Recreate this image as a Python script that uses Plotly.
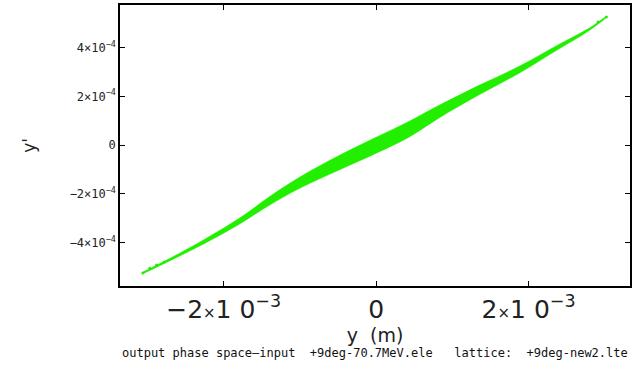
import plotly.graph_objects as go

# Band edges (x in m, y' in rad)
band_x = [-3.06e-3, -2.71e-3, -2.31e-3, -1.79e-3, -1.40e-3, -1.01e-3, -0.48e-3, 0.0,
          0.43e-3, 0.82e-3, 1.35e-3, 1.87e-3, 2.39e-3, 2.78e-3, 3.02e-3]
band_upper = [-5.22e-4, -4.66e-4, -3.98e-4, -3.00e-4, -2.12e-4, -1.33e-4, -0.42e-4, 0.32e-4,
              0.97e-4, 1.62e-4, 2.45e-4, 3.22e-4, 4.12e-4, 4.77e-4, 5.27e-4]
band_lower = [-5.29e-4, -4.76e-4, -4.14e-4, -3.24e-4, -2.47e-4, -1.79e-4, -1.02e-4, -0.34e-4,
              0.32e-4, 1.10e-4, 2.06e-4, 2.94e-4, 3.93e-4, 4.67e-4, 5.25e-4]

# Sparse tail particles
tail_x = [-3.06e-3, -2.97e-3, -2.88e-3, -2.78e-3, 2.91e-3, 3.02e-3]
tail_y = [-5.26e-4, -5.06e-4, -4.93e-4, -4.80e-4, 5.05e-4, 5.26e-4]

x_tickvals = [-2e-3, 0, 2e-3]
x_ticktext = ["\u22122<span style='font-size:15px'>\u00d7</span>1 0<sup>\u22123</sup>", "0",
              "2<span style='font-size:15px'>\u00d7</span>1 0<sup>\u22123</sup>"]
y_tickvals = [-4e-4, -2e-4, 0, 2e-4, 4e-4]
y_ticktext = ["\u22124\u00d710<sup>\u22124</sup>", "\u22122\u00d710<sup>\u22124</sup>", "0",
              "2\u00d710<sup>\u22124</sup>", "4\u00d710<sup>\u22124</sup>"]

green = "#22ee00"

fig = go.Figure()
fig.add_trace(go.Scatter(
    x=band_x + band_x[::-1],
    y=band_upper + band_lower[::-1],
    fill="toself", fillcolor=green, mode="lines",
    line=dict(color=green, width=0.5, shape="spline"), hoverinfo="skip", showlegend=False))
fig.add_trace(go.Scatter(
    x=tail_x, y=tail_y, mode="markers",
    marker=dict(color=green, size=3), showlegend=False))

axis_common = dict(showgrid=False, zeroline=False, showline=True, linecolor="black",
                   linewidth=1.5, mirror="ticks", ticks="inside", ticklen=5,
                   tickcolor="black", tickwidth=1)

fig.update_xaxes(range=[-3.36e-3, 3.33e-3], tickvals=x_tickvals, ticktext=x_ticktext,
                 tickfont=dict(family="DejaVu Sans", size=25, color="#222"),
                 title=dict(text="y  (m)", font=dict(family="DejaVu Sans", size=19, color="#222"),
                            standoff=2),
                 **axis_common)
fig.update_yaxes(range=[-5.79e-4, 5.75e-4], tickvals=y_tickvals, ticktext=y_ticktext,
                 tickfont=dict(family="DejaVu Sans Mono", size=12, color="#222"),
                 title=dict(text="y'", font=dict(family="DejaVu Sans", size=17, color="#222"),
                            standoff=30),
                 **axis_common)

fig.add_annotation(
    text="output phase space\u2014input  +9deg-70.7MeV.ele   lattice:  +9deg-new2.lte",
    xref="paper", yref="paper", x=1.0, y=-0.24, xanchor="right", yanchor="middle",
    showarrow=False, font=dict(family="DejaVu Sans Mono", size=12, color="#111"))

fig.update_layout(width=635, height=373, margin=dict(l=120, r=3, t=5, b=87),
                  paper_bgcolor="white", plot_bgcolor="white")

fig.write_html("out.html")
